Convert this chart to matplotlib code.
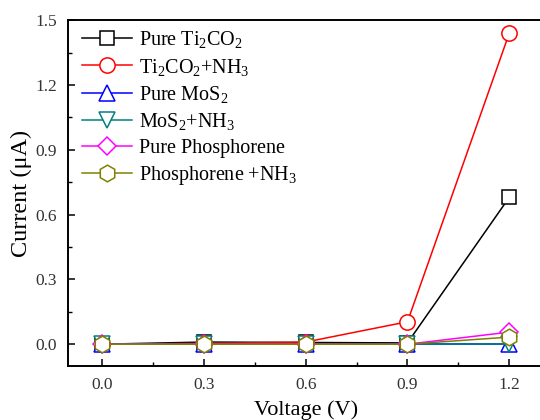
import matplotlib
matplotlib.use("Agg")
import matplotlib.pyplot as plt
from matplotlib.ticker import MultipleLocator

plt.rcParams['font.family'] = ['Liberation Serif', 'DejaVu Serif']
plt.rcParams['mathtext.fontset'] = 'custom'
plt.rcParams['mathtext.rm'] = 'Liberation Serif'

# data
voltage = [0.0, 0.3, 0.6, 0.9, 1.2]
pure_ti2co2 = [0.0, 0.01, 0.008, 0.006, 0.68]
ti2co2_nh3 = [0.0, 0.004, 0.01, 0.104, 1.44]
pure_mos2 = [0.0, 0.0, 0.0, 0.0, 0.0]
mos2_nh3 = [0.0, 0.0, 0.0, 0.0, 0.0]
pure_phos = [0.0, 0.0, 0.0, 0.0, 0.056]
phos_nh3 = [0.0, 0.0, 0.0, 0.0, 0.033]

labels = [r'Pure $\mathregular{Ti_2CO_2}$',
          r'$\mathregular{Ti_2CO_2}$+$\mathregular{NH_3}$',
          r'Pure $\mathregular{MoS_2}$',
          r'$\mathregular{MoS_2}$+$\mathregular{NH_3}$',
          'Pure Phosphorene',
          r'Phosphorene +$\mathregular{NH_3}$']
series = [pure_ti2co2, ti2co2_nh3, pure_mos2, mos2_nh3, pure_phos, phos_nh3]
colors = ['black', 'red', 'blue', '#008080', 'magenta', '#808000']
markers = ['s', 'o', '^', 'v', 'D', 'h']
sizes = [10, 11, 11, 11, 9, 12]

fig = plt.figure(figsize=(5.4, 4.2), dpi=100)
ax = fig.add_axes([0.126, 0.129, 0.88, 0.823])

for ys, lab, c, m, s in zip(series, labels, colors, markers, sizes):
    ax.plot(voltage, ys, color=c, marker=m, markersize=s, markerfacecolor='white',
            markeredgecolor=c, markeredgewidth=1.1, linewidth=1.1, label=lab)

ax.set_xlim(-0.1, 1.3)
ax.set_ylim(-0.1, 1.5)
ax.xaxis.set_major_locator(MultipleLocator(0.3))
ax.xaxis.set_minor_locator(MultipleLocator(0.15))
ax.yaxis.set_major_locator(MultipleLocator(0.3))
ax.yaxis.set_minor_locator(MultipleLocator(0.15))
ax.xaxis.set_major_formatter(plt.FormatStrFormatter('%.1f'))
ax.yaxis.set_major_formatter(plt.FormatStrFormatter('%.1f'))
ax.tick_params(which='both', direction='in', top=False, right=False, labelsize=12.5,
               colors='black', labelcolor='#333333')
ax.tick_params(which='major', length=5, width=1.1, pad=8)
ax.tick_params(which='minor', length=3, width=1.0)
for sp in ax.spines.values():
    sp.set_linewidth(1.4)

ax.set_xlabel('Voltage (V)', fontsize=16, labelpad=5)
ax.set_ylabel('Current (μA)', fontsize=17.5, labelpad=2)

ax.legend(loc='upper left', frameon=False, fontsize=14.5, handlelength=2.5,
          labelspacing=0.32, handletextpad=0.3, borderaxespad=0.3,
          bbox_to_anchor=(0.0, 1.015))

fig.savefig('out.png', dpi=100)
